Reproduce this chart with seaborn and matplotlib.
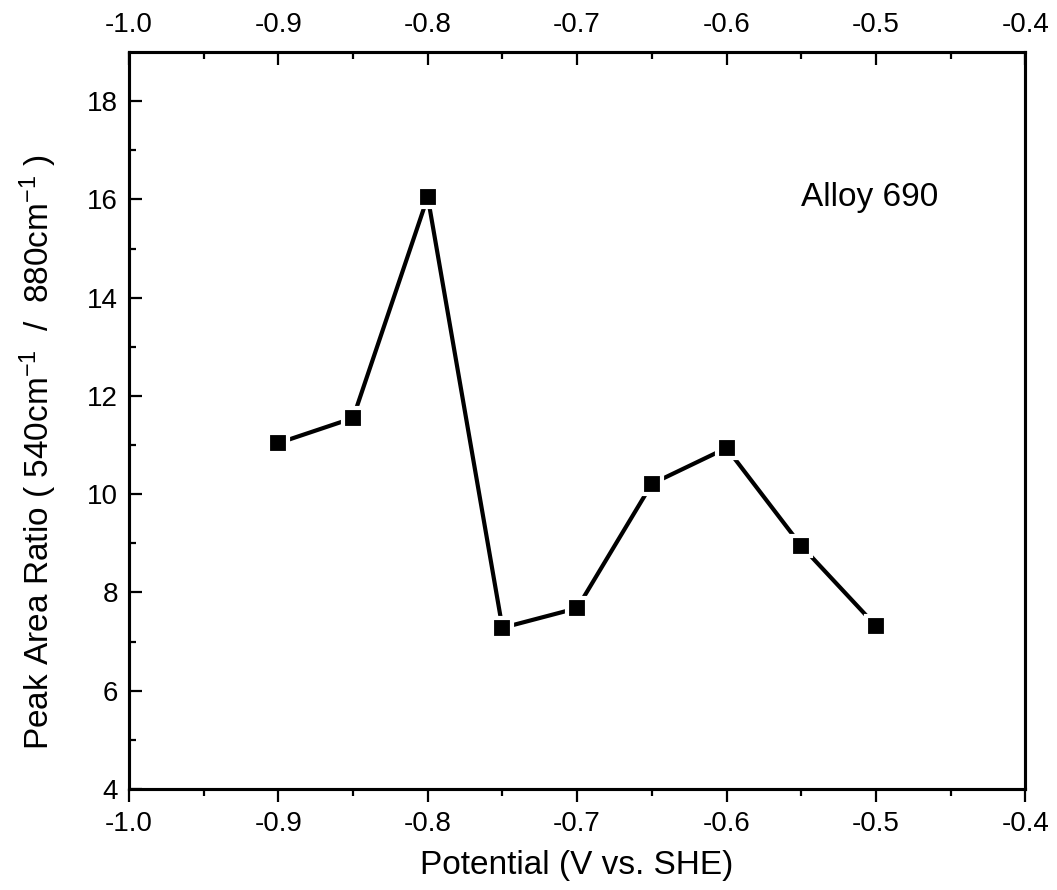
import matplotlib
matplotlib.use("Agg")
import matplotlib.pyplot as plt
import seaborn as sns
import pandas as pd

# data
potential = [-0.90, -0.85, -0.80, -0.75, -0.70, -0.65, -0.60, -0.55, -0.50]
ratio = [11.04, 11.55, 16.05, 7.28, 7.68, 10.21, 10.94, 8.95, 7.32]
x_ticks = [-1.0, -0.9, -0.8, -0.7, -0.6, -0.5, -0.4]
y_ticks = [4, 6, 8, 10, 12, 14, 16, 18]

sns.set_style("ticks")
plt.rcParams['font.family'] = ['Liberation Sans', 'DejaVu Sans']
plt.rcParams['mathtext.default'] = 'regular'
plt.rcParams['text.color'] = 'black'
plt.rcParams['axes.labelcolor'] = 'black'
plt.rcParams['xtick.color'] = 'black'
plt.rcParams['ytick.color'] = 'black'

df = pd.DataFrame({"potential": potential, "ratio": ratio})

fig = plt.figure(figsize=(10.57, 8.9), dpi=100)
ax = fig.add_axes([0.122, 0.1135, 0.848, 0.8281])

sns.lineplot(data=df, x="potential", y="ratio", ax=ax, color="black",
             linewidth=3, marker="s", markersize=14,
             markerfacecolor="black", markeredgecolor="white",
             markeredgewidth=3)

ax.set_xlim(-1.0, -0.4)
ax.set_ylim(4, 19)
ax.set_xticks(x_ticks)
ax.set_xticklabels(["%.1f" % v for v in x_ticks])
ax.set_yticks(y_ticks)
ax.set_xticks([-0.95, -0.85, -0.75, -0.65, -0.55, -0.45], minor=True)
ax.set_yticks([5, 7, 9, 11, 13, 15, 17], minor=True)

for s in ax.spines.values():
    s.set_linewidth(2.2)
    s.set_color("black")
    s.set_visible(True)

ax.tick_params(axis="x", which="major", direction="out", length=9, width=1.6,
               labelsize=20, pad=7)
ax.tick_params(axis="x", which="minor", direction="out", length=5, width=1.6)
ax.tick_params(axis="y", which="major", direction="in", length=9, width=1.6,
               labelsize=20, pad=8, right=False)
ax.tick_params(axis="y", which="minor", direction="in", length=5, width=1.6,
               right=False)

# top axis with inward ticks and labels
ax2 = ax.twiny()
ax2.set_xlim(-1.0, -0.4)
ax2.set_xticks(x_ticks)
ax2.set_xticklabels(["%.1f" % v for v in x_ticks])
ax2.set_xticks([-0.95, -0.85, -0.75, -0.65, -0.55, -0.45], minor=True)
ax2.tick_params(axis="x", which="major", direction="in", length=9, width=1.6,
                labelsize=20, pad=10)
ax2.tick_params(axis="x", which="minor", direction="in", length=5, width=1.6)
for s in ax2.spines.values():
    s.set_linewidth(2.2)
    s.set_color("black")

ax.set_xlabel("Potential (V vs. SHE)", fontsize=24, labelpad=9)
ax.set_ylabel("Peak Area Ratio ( 540cm$^{-1}$  /  880cm$^{-1}$ )", fontsize=24)
ax.yaxis.set_label_coords(-0.078, 0.457)

ax.text(-0.504, 16.03, "Alloy 690", fontsize=24, ha="center", va="center")

fig.savefig("out.png", dpi=100)
